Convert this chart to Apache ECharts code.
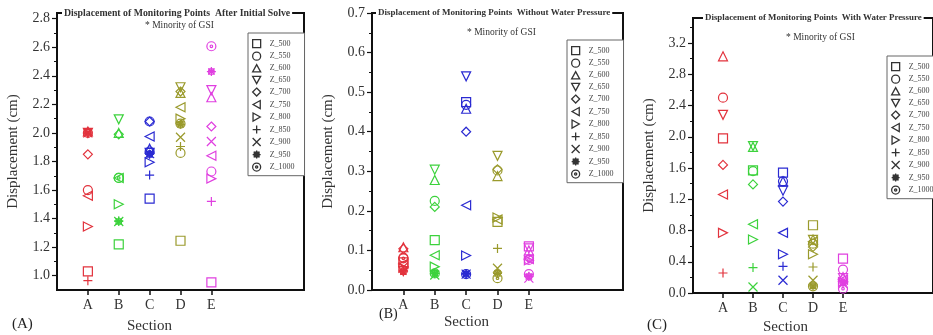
<!DOCTYPE html>
<html><head><meta charset="utf-8">
<script src="https://cdn.jsdelivr.net/npm/echarts@6/dist/echarts.min.js"></script>
<style>html,body{margin:0;padding:0;background:#fff}#c{width:933px;height:335px}</style>
</head><body><div id="c"></div>
<script>
// ---------- data ----------
const sections = ['A', 'B', 'C', 'D', 'E'];
const seriesNames = ['Z_500', 'Z_550', 'Z_600', 'Z_650', 'Z_700', 'Z_750', 'Z_800', 'Z_850', 'Z_900', 'Z_950', 'Z_1000'];

// (A) After Initial Solve: rows = seriesNames, cols = sections
const afterInitialSolve = [
  [1.03, 1.22, 1.54, 1.245, 0.953],
  [1.60, 1.685, 2.08, 1.86, 1.73],
  [2.01, 2.00, 1.89, 2.28, 2.25],
  [2.00, 2.095, 1.86, 2.32, 2.30],
  [1.85, 1.99, 2.08, 2.29, 2.045],
  [1.56, 1.685, 1.975, 2.18, 1.84],
  [1.345, 1.50, 1.795, 2.10, 1.68],
  [0.965, 1.385, 1.705, 1.905, 1.52],
  [2.00, 1.38, 1.855, 1.97, 1.94],
  [2.005, 1.38, 1.85, 2.06, 2.43],
  [2.00, 1.685, 1.87, 2.065, 2.607]
];
// (B) Without Water Pressure
const withoutWaterPressure = [
  [0.070, 0.126, 0.475, 0.172, 0.110],
  [0.082, 0.225, 0.468, 0.302, 0.040],
  [0.108, 0.278, 0.458, 0.288, 0.100],
  [0.048, 0.304, 0.540, 0.339, 0.105],
  [0.104, 0.210, 0.400, 0.305, 0.080],
  [0.066, 0.088, 0.214, 0.178, 0.078],
  [0.056, 0.059, 0.087, 0.183, 0.075],
  [0.050, 0.042, 0.042, 0.105, 0.035],
  [0.058, 0.038, 0.040, 0.055, 0.030],
  [0.046, 0.042, 0.040, 0.042, 0.034],
  [0.080, 0.042, 0.040, 0.030, 0.076]
];
// (C) With Water Pressure
const withWaterPressure = [
  [1.98, 1.57, 1.54, 0.867, 0.44],
  [2.50, 1.56, 1.43, 0.632, 0.30],
  [3.03, 1.87, 1.43, 0.684, 0.205],
  [2.28, 1.88, 1.31, 0.68, 0.19],
  [1.64, 1.39, 1.17, 0.589, 0.18],
  [1.26, 0.88, 0.77, 0.66, 0.17],
  [0.77, 0.684, 0.495, 0.495, 0.14],
  [0.256, 0.325, 0.342, 0.333, 0.15],
  [null, 0.077, 0.163, 0.163, 0.12],
  [null, null, null, 0.09, 0.13],
  [null, null, null, 0.086, 0.056]
];

const yTicksA = [1.0, 1.2, 1.4, 1.6, 1.8, 2.0, 2.2, 2.4, 2.6, 2.8];
const yTicksB = [0.0, 0.1, 0.2, 0.3, 0.4, 0.5, 0.6, 0.7];
const yTicksC = [0.0, 0.4, 0.8, 1.2, 1.6, 2.0, 2.4, 2.8, 3.2];
const titles = ['Displacement of Monitoring Points  After Initial Solve',
                'Displacement of Monitoring Points  Without Water Pressure',
                'Displacement of Monitoring Points  With Water Pressure'];
const subTitle = '* Minority of GSI';
const panelLabels = ['(A)', '(B)', '(C)'];
const xAxisTitle = 'Section';
const yAxisTitle = 'Displacement (cm)';

// ---------- styles ----------
const sectionColors = ['#e2333d', '#3cd23c', '#2a2ad2', '#9a9a2c', '#e03fe0'];
const symbols = [
  'path://M0,0L10,0L10,10L0,10Z',
  'path://M10,5A5,5 0 1,1 0,5A5,5 0 1,1 10,5Z',
  'path://M5,0L10,9L0,9Z',
  'path://M0,0L10,0L5,9Z',
  'path://M5,0L10,5L5,10L0,5Z',
  'path://M0,5L9,0L9,10Z',
  'path://M0,0L9,5L0,10Z',
  'path://M5,0L5,10M0,5L10,5',
  'path://M0,0L10,10M10,0L0,10',
  'path://M5,0L5,10M0,5L10,5M1.5,1.5L8.5,8.5M8.5,1.5L1.5,8.5M2,2L8,2L8,8L2,8Z',
  'path://M10,5A5,5 0 1,1 0,5A5,5 0 1,1 10,5ZM6.4,5A1.4,1.4 0 1,1 3.6,5A1.4,1.4 0 1,1 6.4,5Z'
];
const FONT = 'Liberation Serif';

const panels = [
  {data: afterInitialSolve, ticks: yTicksA, ymin: 0.9, ymax: 2.84,
   grid: {left: 57, top: 13, width: 247, height: 277},
   title: {left: 62, top: 7, size: 9.8}, sub: {cx: 182, top: 20},
   legend: {left: 248, top: 33}, label: {x: 12, y: 317, size: 15}, section: {x: 150, y: 319}},
  {data: withoutWaterPressure, ticks: yTicksB, ymin: 0, ymax: 0.7,
   grid: {left: 372, top: 13, width: 251, height: 277},
   title: {left: 376, top: 7, size: 9}, sub: {cx: 504, top: 27},
   legend: {left: 567, top: 40}, label: {x: 379, y: 307, size: 14}, section: {x: 467, y: 315}},
  {data: withWaterPressure, ticks: yTicksC, ymin: 0, ymax: 3.52,
   grid: {left: 693, top: 18, width: 248, height: 275},
   title: {left: 703, top: 12, size: 8.9}, sub: {cx: 823, top: 32},
   legend: {left: 887, top: 56}, label: {x: 647, y: 318, size: 15}, section: {x: 786, y: 320}}
];

function minorOf(t) {
  const step = t[1] - t[0];
  const out = [];
  for (let i = 0; i < t.length; i++) out.push(+(t[i] + step / 2).toFixed(4));
  return out;
}

const grid = [], xAxis = [], yAxis = [], series = [], title = [], legend = [], graphic = [];
panels.forEach((p, pi) => {
  grid.push(Object.assign({show: true, borderColor: '#111', borderWidth: 2, backgroundColor: 'transparent'}, p.grid));
  xAxis.push({
    type: 'value', gridIndex: pi, min: 0, max: 8,
    axisLine: {lineStyle: {color: '#111', width: 1.5}},
    axisTick: {length: 5, lineStyle: {color: '#111', width: 1.5}, customValues: sections.map((s, i) => i + 1)},
    axisLabel: {customValues: sections.map((s, i) => i + 1), formatter: v => sections[v - 1] || '',
      fontFamily: FONT, fontSize: 14, color: '#333', margin: 8},
    splitLine: {show: false}
  });
  yAxis.push({
    type: 'value', gridIndex: pi, min: p.ymin, max: p.ymax,
    name: yAxisTitle, nameLocation: 'middle', nameGap: 36,
    nameTextStyle: {fontFamily: FONT, fontSize: 15, color: '#333'},
    axisLine: {lineStyle: {color: '#111', width: 1.5}},
    axisTick: {length: 5, lineStyle: {color: '#111', width: 1.2}, customValues: p.ticks},
    axisLabel: {customValues: p.ticks, formatter: v => v.toFixed(1),
      fontFamily: FONT, fontSize: 14, color: '#333', margin: 7},
    splitLine: {show: false}
  });
  yAxis.push({
    type: 'value', gridIndex: pi, min: p.ymin, max: p.ymax, position: 'left',
    axisLine: {show: false},
    axisTick: {length: 3, lineStyle: {color: '#111', width: 1}, customValues: minorOf(p.ticks).filter(v => v > p.ymin && v < p.ymax)},
    axisLabel: {show: false}, splitLine: {show: false}
  });
  seriesNames.forEach((name, si) => {
    const data = [];
    p.data[si].forEach((v, ci) => {
      if (v === null) return;
      data.push({value: [ci + 1, v], itemStyle: {borderColor: sectionColors[ci]}});
    });
    series.push({
      type: 'scatter', name, xAxisIndex: pi, yAxisIndex: pi * 2,
      symbol: symbols[si], symbolSize: 9,
      itemStyle: {color: 'rgba(0,0,0,0)', borderColor: '#333', borderWidth: 1.2, opacity: 1},
      emphasis: {disabled: true},
      data
    });
  });
  title.push({
    text: titles[pi], left: p.title.left, top: p.title.top,
    backgroundColor: '#fff', padding: [0, 2],
    textStyle: {fontFamily: FONT, fontSize: p.title.size, fontWeight: 'bold', color: '#333', lineHeight: 12}
  });
  legend.push({
    data: seriesNames, orient: 'vertical', left: p.legend.left, top: p.legend.top,
    padding: [6, 10, 4, 4], itemGap: 3.2, itemWidth: 8, itemHeight: 8,
    borderColor: '#666', borderWidth: 1, backgroundColor: '#fff',
    selectedMode: false,
    itemStyle: {borderWidth: 1.3},
    textStyle: {fontFamily: FONT, fontSize: 8, lineHeight: 8, color: '#444', padding: [0, 0, 0, 4]}
  });
  graphic.push({type: 'text', left: p.sub.cx - 37, top: p.sub.top,
    style: {text: subTitle, font: '9.5px "Liberation Serif"', fill: '#333'}});
  graphic.push({type: 'text', left: p.label.x, top: p.label.y,
    style: {text: panelLabels[pi], font: p.label.size + 'px "Liberation Serif"', fill: '#222'}});
  graphic.push({type: 'text', left: p.section.x - 23, top: p.section.y,
    style: {text: xAxisTitle, font: '15px "Liberation Serif"', fill: '#333'}});
});

const chart = echarts.init(document.getElementById('c'));
chart.setOption({
  backgroundColor: '#fff', animation: false,
  grid, xAxis, yAxis, series, title, legend, graphic
});
</script></body></html>
